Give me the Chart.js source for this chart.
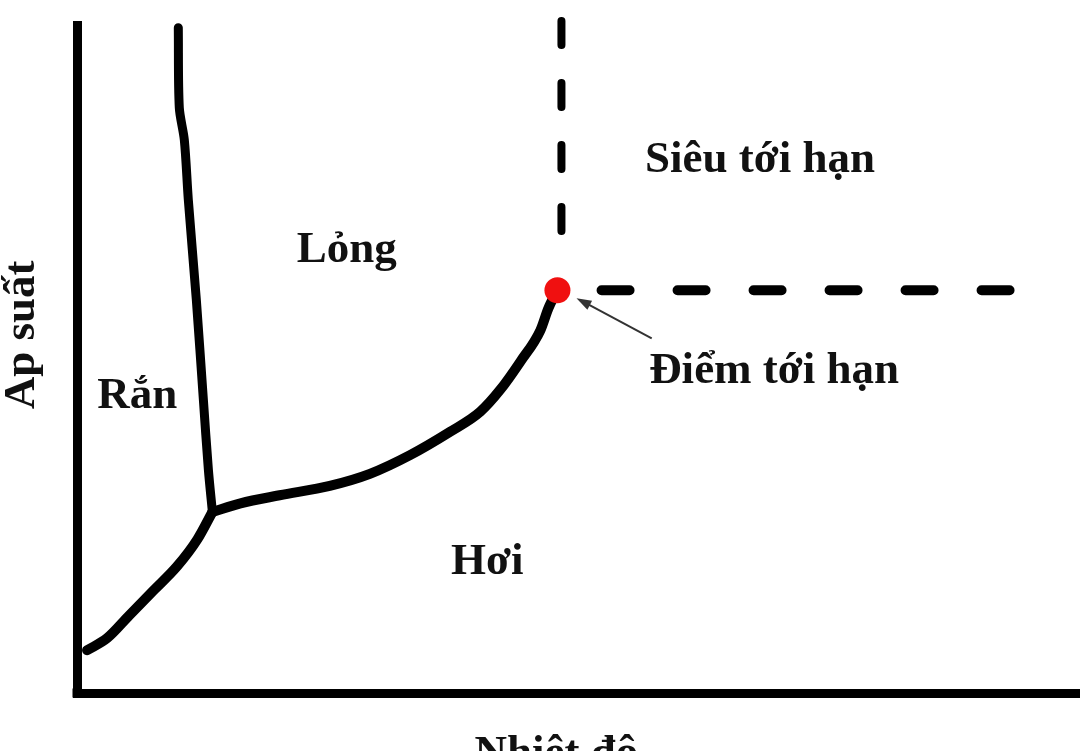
<!DOCTYPE html>
<html>
<head>
<meta charset="utf-8">
<script src="https://cdn.jsdelivr.net/npm/chart.js@4"></script>
<style>
    body { margin: 0; background: #fff; }
    canvas { display: block; }
</style>
</head>
<body>
<canvas id="phaseChart" width="1080" height="751"></canvas>
<script>
// phase diagram, arbitrary units (0-100 on both axes)
const sublimationX = [1.0, 3.0, 5.2, 7.6, 10.0, 12.0, 13.5];
const sublimationY = [6.4, 8.2, 11.6, 15.3, 19.0, 23.0, 27.1];

const meltingX = [10.1, 10.2, 10.7, 11.1, 11.9, 12.6, 13.1, 13.5];
const meltingY = [99.6, 87.6, 82.8, 73.8, 58.8, 43.9, 33.4, 27.1];

const boilingX = [13.5, 16.3, 20.2, 25.2, 29.2, 33.2, 37.2, 40.2, 42.2, 44.2, 46.2, 47.0, 47.9];
const boilingY = [27.1, 28.4, 29.6, 31.0, 32.8, 35.6, 39.1, 42.1, 45.4, 49.6, 54.3, 57.6, 60.3];

const criticalX = [47.9];
const criticalY = [60.3];

const critTempX = [48.3, 48.3];
const critTempY = [100.6, 66.6];
const critPresX = [52.3, 93.5];
const critPresY = [60.3, 60.3];

const regionLabels = ['Siêu tới hạn', 'Lỏng', 'Rắn', 'Điểm tới hạn', 'Hơi'];
const regionX = [68.1, 26.9, 6.0, 69.5, 40.9];
const regionY = [78.0, 64.5, 42.7, 46.4, 17.8];

const xTitle = 'Nhiệt độ';
const yTitle = 'Ap suất';

function toPoints(xs, ys) {
    return xs.map((x, i) => ({ x: x, y: ys[i] }));
}

const serif = 'bold 45px "Liberation Serif", "DejaVu Serif", serif';

const textPlugin = {
    id: 'phaseText',
    afterDraw(chart) {
        const c = chart.ctx;
        const xs = chart.scales.x;
        const ys = chart.scales.y;
        c.save();
        c.fillStyle = '#111';
        c.font = serif;
        c.textAlign = 'center';
        c.textBaseline = 'alphabetic';
        regionLabels.forEach(function (t, i) {
            c.fillText(t, xs.getPixelForValue(regionX[i]), ys.getPixelForValue(regionY[i]));
        });

        // axis titles
        c.fillText(xTitle, xs.getPixelForValue(47.8), chart.chartArea.bottom + 73);
        c.save();
        c.translate(chart.chartArea.left - 43, ys.getPixelForValue(53.6));
        c.rotate(-Math.PI / 2);
        c.fillText(yTitle, 0, 0);
        c.restore();

        // arrow to the critical point
        const x0 = xs.getPixelForValue(57.3), y0 = ys.getPixelForValue(53.1);
        const x1 = xs.getPixelForValue(49.8), y1 = ys.getPixelForValue(59.1);
        const ang = Math.atan2(y1 - y0, x1 - x0);
        c.strokeStyle = '#333';
        c.fillStyle = '#333';
        c.lineWidth = 2;
        c.beginPath();
        c.moveTo(x0, y0);
        c.lineTo(x1 - 8 * Math.cos(ang), y1 - 8 * Math.sin(ang));
        c.stroke();
        c.beginPath();
        c.moveTo(x1, y1);
        c.lineTo(x1 - 15 * Math.cos(ang) + 5 * Math.sin(ang), y1 - 15 * Math.sin(ang) - 5 * Math.cos(ang));
        c.lineTo(x1 - 15 * Math.cos(ang) - 5 * Math.sin(ang), y1 - 15 * Math.sin(ang) + 5 * Math.cos(ang));
        c.closePath();
        c.fill();

        // close the corner where the two axis lines meet
        c.fillStyle = '#000';
        c.fillRect(chart.chartArea.left - 4.5, chart.chartArea.bottom - 4.5, 9, 9);
        c.restore();
    }
};

const curveStyle = {
    showLine: true,
    borderColor: '#000',
    borderWidth: 10,
    borderCapStyle: 'round',
    borderJoinStyle: 'round',
    pointRadius: 0,
    cubicInterpolationMode: 'monotone',
    clip: false
};

new Chart(document.getElementById('phaseChart'), {
    type: 'scatter',
    data: {
        datasets: [
            {
                data: toPoints(criticalX, criticalY),
                pointRadius: 13,
                pointBackgroundColor: '#f01010',
                pointBorderWidth: 0,
                clip: false
            },
            Object.assign({ data: toPoints(sublimationX, sublimationY) }, curveStyle),
            Object.assign({ data: toPoints(meltingX, meltingY) }, curveStyle, {
                borderWidth: 9, cubicInterpolationMode: 'default', tension: 0.3
            }),
            Object.assign({ data: toPoints(boilingX, boilingY) }, curveStyle),
            Object.assign({ data: toPoints(critTempX, critTempY) }, curveStyle, {
                borderWidth: 8, borderDash: [24, 38], cubicInterpolationMode: 'default', tension: 0
            }),
            Object.assign({ data: toPoints(critPresX, critPresY) }, curveStyle, {
                borderWidth: 10, borderDash: [28, 48], cubicInterpolationMode: 'default', tension: 0
            })
        ]
    },
    options: {
        responsive: false,
        animation: false,
        layout: {
            autoPadding: false,
            padding: { left: 77, top: 25, right: 0, bottom: 58 }
        },
        plugins: {
            legend: { display: false },
            tooltip: { enabled: false }
        },
        scales: {
            x: {
                type: 'linear', min: 0, max: 100,
                grid: { display: false, drawTicks: false },
                ticks: { display: false },
                border: { color: '#000', width: 9 }
            },
            y: {
                type: 'linear', min: 0, max: 100,
                grid: { display: false, drawTicks: false },
                ticks: { display: false },
                border: { color: '#000', width: 9 }
            }
        }
    },
    plugins: [textPlugin]
});
</script>
</body>
</html>
